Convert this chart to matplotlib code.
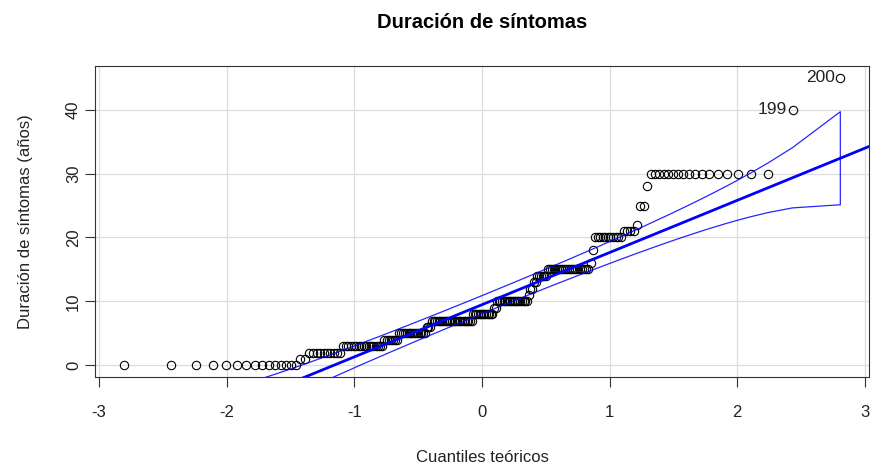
import numpy as np
import matplotlib
matplotlib.use("Agg")
import matplotlib.pyplot as plt
from statistics import NormalDist

# ---- data ----
values = [0, 1, 2, 3, 4, 5, 6, 7, 8, 9, 10, 11, 12, 13, 14, 15, 16, 18,
          20, 21, 22, 25, 28, 30, 40, 45]
counts = [15, 2, 10, 17, 7, 15, 3, 25, 13, 2, 19, 1, 2, 2, 6, 21, 1, 1,
          11, 4, 1, 2, 1, 17, 1, 1]
labelled_idx = [199, 200]
title = "Duración de síntomas"
xlabel = "Cuantiles teóricos"
ylabel = "Duración de síntomas (años)"
xticks = [-3, -2, -1, 0, 1, 2, 3]
yticks = [0, 10, 20, 30, 40]

y = np.sort(np.repeat(values, counts)).astype(float)
n = len(y)
P = (np.arange(1, n + 1) - 0.5) / n
nd = NormalDist()
z = np.array([nd.inv_cdf(p) for p in P])

# reference line through the quartiles
q1, q3 = np.quantile(y, [0.25, 0.75])
zq1, zq3 = nd.inv_cdf(0.25), nd.inv_cdf(0.75)
b1 = (q3 - q1) / (zq3 - zq1)
b0 = q1 - b1 * zq1

dn = np.exp(-z ** 2 / 2) / np.sqrt(2 * np.pi)
SE = (b1 / dn) * np.sqrt(P * (1 - P) / n)
zz = nd.inv_cdf(0.975)
fit = b0 + b1 * z
upper = fit + zz * SE
lower = fit - zz * SE

plt.rcParams['font.family'] = ['Liberation Sans', 'DejaVu Sans']
fig = plt.figure(figsize=(8.75, 4.68), dpi=100)
ax = fig.add_axes([95 / 875, 1 - 377 / 468, (869 - 95) / 875, (377 - 66) / 468])

xr = z.max() - z.min()
ax.set_xlim(z.min() - 0.04 * xr, z.max() + 0.04 * xr)
yr = y.max() - y.min()
ax.set_ylim(y.min() - 0.04 * yr, y.max() + 0.04 * yr)

for t in xticks:
    ax.axvline(t, color='#dcdcdc', lw=0.9, zorder=0)
for t in yticks:
    ax.axhline(t, color='#dcdcdc', lw=0.9, zorder=0)

ax.plot(z, y, linestyle='none', marker='o', ms=6, mfc='none', mec='black', mew=0.8, zorder=3)

xx = np.array(ax.get_xlim()) * 1.2
ax.plot(xx, b0 + b1 * xx, color='#0000ff', lw=2.0, zorder=4)
px = np.concatenate([z, z[::-1], z[:1]])
py = np.concatenate([upper, lower[::-1], upper[:1]])
ax.plot(px, py, color='#0000ff', lw=0.9, alpha=0.85, zorder=4)

for idx in labelled_idx:
    ax.annotate(str(idx), (z[idx - 1], y[idx - 1]), xytext=(-4, 0), textcoords='offset points',
                ha='right', va='center', fontsize=12.5, color='#222222')

ax.set_xticks(xticks)
ax.set_yticks(yticks)
ax.set_xticklabels([str(t) for t in xticks], fontsize=12)
ax.set_yticklabels([str(t) for t in yticks], fontsize=12, rotation=90, va='center')
ax.tick_params(direction='out', length=7, width=0.8, color='#333333', labelcolor='#222222')
ax.tick_params(axis='x', pad=13)
ax.tick_params(axis='y', pad=3)
for s in ax.spines.values():
    s.set_color('#333333')
    s.set_linewidth(0.8)

ax.set_xlabel(xlabel, fontsize=12, color='#222222', labelpad=22)
ax.set_ylabel(ylabel, fontsize=12, color='#222222', labelpad=24)
fig.text(482 / 875, 1 - 22 / 468, title, ha='center', va='center', fontsize=14.5, fontweight='bold')

fig.savefig('out.png', dpi=100)
